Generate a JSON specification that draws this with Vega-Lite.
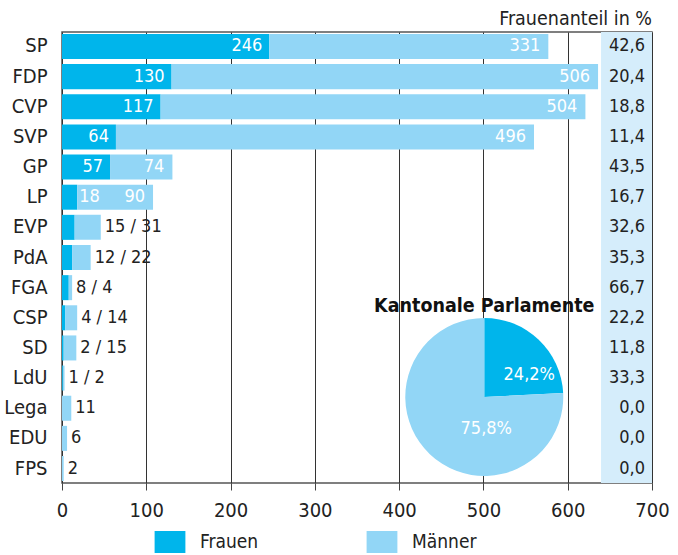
{
  "$schema": "https://vega.github.io/schema/vega-lite/v6.json",
  "width": 590,
  "height": 451,
  "autosize": "none",
  "padding": {"left": 62, "top": 32, "right": 26, "bottom": 72},
  "title": {"text": "Frauenanteil in %", "anchor": "end", "frame": "group", "fontSize": 19.5, "fontWeight": "normal", "color": "#222", "offset": 3},
  "config": {
    "font": "DejaVu Sans Condensed, DejaVu Sans, sans-serif",
    "locale": {"number": {"decimal": ",", "thousands": "'", "grouping": [3], "currency": ["", " CHF"]}},
    "view": {"stroke": "#555", "strokeWidth": 1.5},
    "text": {"fontSize": 18}
  },
  "datasets": {
    "parteien": [
      {"Partei": "SP", "Frauen": 246, "Männer": 331, "Frauenanteil": 42.6},
      {"Partei": "FDP", "Frauen": 130, "Männer": 506, "Frauenanteil": 20.4},
      {"Partei": "CVP", "Frauen": 117, "Männer": 504, "Frauenanteil": 18.8},
      {"Partei": "SVP", "Frauen": 64, "Männer": 496, "Frauenanteil": 11.4},
      {"Partei": "GP", "Frauen": 57, "Männer": 74, "Frauenanteil": 43.5},
      {"Partei": "LP", "Frauen": 18, "Männer": 90, "Frauenanteil": 16.7},
      {"Partei": "EVP", "Frauen": 15, "Männer": 31, "Frauenanteil": 32.6},
      {"Partei": "PdA", "Frauen": 12, "Männer": 22, "Frauenanteil": 35.3},
      {"Partei": "FGA", "Frauen": 8, "Männer": 4, "Frauenanteil": 66.7},
      {"Partei": "CSP", "Frauen": 4, "Männer": 14, "Frauenanteil": 22.2},
      {"Partei": "SD", "Frauen": 2, "Männer": 15, "Frauenanteil": 11.8},
      {"Partei": "LdU", "Frauen": 1, "Männer": 2, "Frauenanteil": 33.3},
      {"Partei": "Lega", "Frauen": 0, "Männer": 11, "Frauenanteil": 0.0},
      {"Partei": "EDU", "Frauen": 0, "Männer": 6, "Frauenanteil": 0.0},
      {"Partei": "FPS", "Frauen": 0, "Männer": 2, "Frauenanteil": 0.0}
    ],
    "kantone": [
      {"Geschlecht": "Frauen", "Anteil": 0.242},
      {"Geschlecht": "Männer", "Anteil": 0.758}
    ]
  },
  "data": {"name": "parteien"},
  "transform": [
    {"calculate": "datum.Frauen + datum['Männer']", "as": "Total"},
    {"calculate": "datum.Frauen > 0 ? datum.Frauen + ' / ' + datum['Männer'] : '' + datum['Männer']", "as": "Aussen"}
  ],
  "encoding": {
    "y": {
      "field": "Partei", "type": "nominal",
      "scale": {"domain": ["SP","FDP","CVP","SVP","GP","LP","EVP","PdA","FGA","CSP","SD","LdU","Lega","EDU","FPS"], "paddingInner": 0.17, "paddingOuter": 0.065},
      "axis": {"title": null, "domain": false, "ticks": false, "labelFontSize": 20, "labelColor": "#222", "labelPadding": 15}
    }
  },
  "layer": [
    {
      "mark": {"type": "rect", "color": "#D5EDFB"},
      "encoding": {
        "y": null,
        "x": {"datum": 640, "type": "quantitative"},
        "x2": {"datum": 700}
      }
    },
    {
      "transform": [{"fold": ["Frauen", "Männer"], "as": ["Geschlecht", "Anzahl"]}],
      "mark": {"type": "bar"},
      "encoding": {
        "x": {
          "field": "Anzahl", "type": "quantitative", "stack": "zero",
          "scale": {"domain": [0, 700], "nice": false},
          "axis": {"title": null, "values": [0,100,200,300,400,500,600,700], "domain": false, "tickColor": "#444", "tickSize": 7, "labelFlush": false, "labelFontSize": 20, "labelColor": "#222", "labelPadding": 10, "grid": true, "gridColor": "#333", "gridWidth": 1}
        },
        "color": {
          "field": "Geschlecht", "type": "nominal",
          "scale": {"domain": ["Frauen", "Männer"], "range": ["#00B5EB", "#92D6F6"]},
          "legend": {"title": null, "orient": "none", "legendX": 97, "legendY": 499, "direction": "horizontal", "symbolType": "M-1.4,-1H1.4V1H-1.4Z", "symbolSize": 484, "symbolStrokeWidth": 0, "labelFontSize": 19, "labelColor": "#222", "labelOffset": 19, "columnPadding": 107, "padding": 0}
        },
        "order": {"field": "Geschlecht"}
      }
    },
    {
      "transform": [{"filter": "datum.Frauen >= 50"}],
      "mark": {"type": "text", "align": "right", "dx": -7, "color": "white"},
      "encoding": {"x": {"field": "Frauen", "type": "quantitative"}, "text": {"field": "Frauen"}}
    },
    {
      "transform": [{"filter": "datum.Total >= 100 && datum.Frauen < 50"}],
      "mark": {"type": "text", "align": "left", "dx": 2, "color": "white"},
      "encoding": {"x": {"field": "Frauen", "type": "quantitative"}, "text": {"field": "Frauen"}}
    },
    {
      "transform": [{"filter": "datum.Total >= 100"}],
      "mark": {"type": "text", "align": "right", "dx": -8, "color": "white"},
      "encoding": {"x": {"field": "Total", "type": "quantitative"}, "text": {"field": "Männer"}}
    },
    {
      "transform": [{"filter": "datum.Total < 100"}],
      "mark": {"type": "text", "align": "left", "dx": 4, "color": "#222"},
      "encoding": {"x": {"field": "Total", "type": "quantitative"}, "text": {"field": "Aussen"}}
    },
    {
      "mark": {"type": "text", "align": "right", "dx": -7, "color": "#222"},
      "encoding": {"x": {"datum": 700, "type": "quantitative"}, "text": {"field": "Frauenanteil", "format": ".1f"}}
    },
    {
      "data": {"values": [{"t": "Kantonale Parlamente"}]},
      "mark": {"type": "text", "fontWeight": "bold", "fontSize": 19.5, "color": "#111", "baseline": "middle"},
      "encoding": {
        "x": {"datum": 501, "type": "quantitative"},
        "y": {"datum": "CSP", "type": "nominal", "bandPosition": 0.04},
        "text": {"field": "t"}
      }
    },
    {
      "data": {"name": "kantone"},
      "mark": {"type": "arc", "outerRadius": 79},
      "encoding": {
        "x": {"datum": 501, "type": "quantitative"},
        "y": {"datum": "Lega", "type": "nominal", "bandPosition": 0.05},
        "theta": {"field": "Anteil", "type": "quantitative", "stack": true},
        "color": {"field": "Geschlecht", "type": "nominal"},
        "order": {"field": "Geschlecht"}
      }
    },
    {
      "data": {"name": "kantone"},
      "transform": [{"filter": "datum.Geschlecht === 'Frauen'"}],
      "mark": {"type": "text", "color": "white", "fontSize": 18, "baseline": "middle", "dx": 45, "dy": -22},
      "encoding": {
        "x": {"datum": 501, "type": "quantitative"},
        "y": {"datum": "Lega", "type": "nominal", "bandPosition": 0.05},
        "text": {"field": "Anteil", "format": ".1%"}
      }
    },
    {
      "data": {"name": "kantone"},
      "transform": [{"filter": "datum.Geschlecht === 'Männer'"}],
      "mark": {"type": "text", "color": "white", "fontSize": 18, "baseline": "middle", "dx": 2, "dy": 32},
      "encoding": {
        "x": {"datum": 501, "type": "quantitative"},
        "y": {"datum": "Lega", "type": "nominal", "bandPosition": 0.05},
        "text": {"field": "Anteil", "format": ".1%"}
      }
    }
  ]
}
